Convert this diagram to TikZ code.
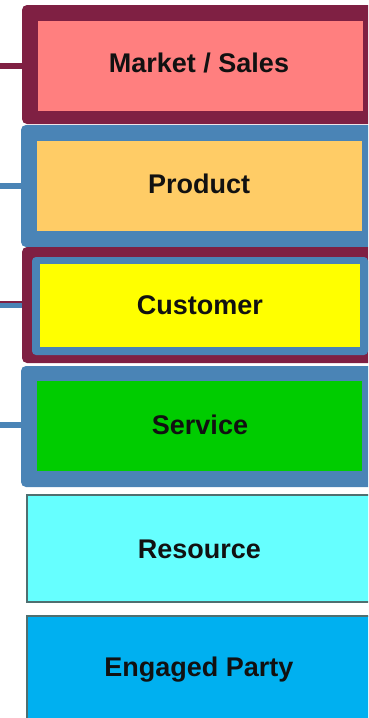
\documentclass[tikz,border=0pt]{standalone}
\usepackage{fontspec}
\setmainfont{Liberation Sans}
\definecolor{maroon}{HTML}{7F2043}
\definecolor{frameblue}{HTML}{4A84B6}
\definecolor{pinkfill}{HTML}{FF7F7F}
\definecolor{orangefill}{HTML}{FFCC66}
\definecolor{yellowfill}{HTML}{FFFF00}
\definecolor{greenfill}{HTML}{00CC00}
\definecolor{cyanfill}{HTML}{66FFFF}
\definecolor{partyfill}{HTML}{00B0F0}
\definecolor{edgegray}{HTML}{4F6F70}
\definecolor{txt}{HTML}{111111}
\tikzset{
  frame/.style={rectangle, rounded corners=5pt, inner sep=0pt, draw=none},
  inner/.style={rectangle, inner sep=0pt, draw=none},
  plain/.style={rectangle, inner sep=0pt, draw=edgegray, line width=1.5pt},
  lbl/.style={inner sep=0pt, font=\fontsize{27}{31}\selectfont\bfseries, text=txt, text height=19.3pt, text depth=0pt},
  conn/.style={line width=6pt}
}
\begin{document}
\begin{tikzpicture}[x=1pt,y=-1pt]
\useasboundingbox (0,0) rectangle (368,718);
\clip (0,0) rectangle (368,718);
% Market / Sales
\node[frame, fill=maroon, minimum width=358pt, minimum height=119pt] (mframe) at (201,64.5) {};
\node[inner, fill=pinkfill, minimum width=325pt, minimum height=90pt] (market) at (200.5,66) {};
\node[lbl] (marketlbl) at (199,63) {Market / Sales};
% Product
\node[frame, fill=frameblue, minimum width=359pt, minimum height=122pt] (pframe) at (200.5,186) {};
\node[inner, fill=orangefill, minimum width=325pt, minimum height=90pt] (product) at (199.5,186) {};
\node[lbl] (productlbl) at (199,184) {Product};
% Customer
\node[frame, fill=maroon, minimum width=358pt, minimum height=116pt] (cframe) at (201,305) {};
\node[frame, rounded corners=4pt, fill=frameblue, minimum width=336pt, minimum height=98pt] (cring) at (200,306) {};
\node[inner, fill=yellowfill, minimum width=320pt, minimum height=83pt] (customer) at (200,305.5) {};
\node[lbl] (customerlbl) at (200,305) {Customer};
% Service
\node[frame, fill=frameblue, minimum width=359pt, minimum height=121pt] (sframe) at (200.5,426.5) {};
\node[inner, fill=greenfill, minimum width=325pt, minimum height=90pt] (service) at (199.5,426) {};
\node[lbl] (servicelbl) at (200,425) {Service};
% Resource
\node[plain, fill=cyanfill, minimum width=353pt, minimum height=107pt] (resource) at (203.5,548.5) {};
\node[lbl] (resourcelbl) at (199.5,548.5) {Resource};
% Engaged Party
\node[plain, fill=partyfill, minimum width=353pt, minimum height=114pt] (party) at (203.5,673) {};
\node[lbl] (partylbl) at (199,667) {Engaged Party};
% connectors
\coordinate (m0) at (0,66);
\coordinate (p0) at (0,186);
\coordinate (c0) at (0,305);
\coordinate (s0) at (0,425);
\draw[conn, maroon] (m0) -- (m0 -| mframe.west);
\draw[conn, frameblue] (p0) -- (p0 -| pframe.west);
\draw[conn, frameblue] (c0) -- (c0 -| cframe.west);
\draw[line width=1.2pt, maroon] ([yshift=3pt]c0) -- ([yshift=3pt]c0 -| cframe.west);
\draw[conn, frameblue] (s0) -- (s0 -| sframe.west);
\end{tikzpicture}
\end{document}
